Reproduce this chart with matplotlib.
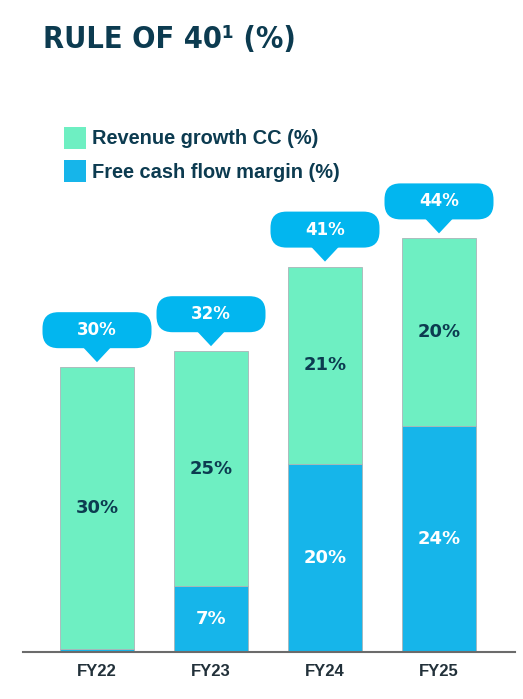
import matplotlib
matplotlib.use("Agg")
import matplotlib.pyplot as plt
import matplotlib.transforms as mtransforms
from matplotlib.patches import FancyBboxPatch, Polygon, Rectangle
from matplotlib import font_manager

# ---- data ----
years = ["FY22", "FY23", "FY24", "FY25"]
fcf_margin = [0.3, 7, 20, 24]
rev_growth = [30, 25, 21, 20]
fcf_labels = ["", "7%", "20%", "24%"]
rev_labels = ["30%", "25%", "21%", "20%"]
total_labels = ["30%", "32%", "41%", "44%"]

W, H = 523, 699
DPI = 100
GREEN = "#6EEFC2"
BLUE = "#16B5EA"
CALLOUT = "#02B6EF"
DARK = "#0C3B50"
GREY_TXT = "#22313A"

# find a condensed bold font for the title if one is installed
cands = []
for f in font_manager.fontManager.ttflist:
    nm = f.name.lower()
    st = str(f.stretch).lower()
    if ("condensed" in nm or "narrow" in nm or "condensed" in st) and (
            f.weight in ("bold", 700, "heavy", 800)):
        cands.append(f)
if cands:
    title_fp = font_manager.FontProperties(fname=cands[0].fname)
    title_size = 22
else:
    title_fp = font_manager.FontProperties(family="DejaVu Sans", weight="bold")
    title_size = 19

body_family = "Liberation Sans"
num_family = "DejaVu Sans"

fig = plt.figure(figsize=(W / DPI, H / DPI), dpi=DPI)
fig.patch.set_facecolor("white")

def fx(x):
    return x / W

def fy(y):
    return 1 - y / H

ax_l, ax_r = 23, 515
ax_base, ax_top = 652, 100
ax = fig.add_axes([fx(ax_l), fy(ax_base), (ax_r - ax_l) / W, (ax_base - ax_top) / H])
px_per_unit = 9.4
ax.set_ylim(0, (ax_base - ax_top) / px_per_unit)
step = 114
first_c = 97
ax.set_xlim((ax_l - first_c) / step, (ax_r - first_c) / step)
for s in ["top", "right", "left"]:
    ax.spines[s].set_visible(False)
ax.spines["bottom"].set_color("#6B6B6B")
ax.spines["bottom"].set_linewidth(1.5)
ax.set_yticks([])
x = list(range(len(years)))
ax.set_xticks(x)
ax.set_xticklabels(years, fontsize=12, fontweight="bold", color=GREY_TXT, family=body_family)
ax.tick_params(axis="x", length=0, pad=9)

bw = 74 / step
ax.bar(x, fcf_margin, width=bw, color=BLUE, edgecolor="#A9B4B8", linewidth=0.6, zorder=2)
ax.bar(x, rev_growth, width=bw, bottom=fcf_margin, color=GREEN, edgecolor="#A9B4B8", linewidth=0.6, zorder=2)

for i in x:
    f = fcf_margin[i]
    r = rev_growth[i]
    if fcf_labels[i]:
        ax.text(i, f / 2, fcf_labels[i], ha="center", va="center", color="white",
                fontsize=13, fontweight="bold", family=num_family, zorder=3)
    ax.text(i, f + r / 2, rev_labels[i], ha="center", va="center", color=DARK,
            fontsize=13, fontweight="bold", family=num_family, zorder=3)

    total = f + r
    trans = fig.dpi_scale_trans + mtransforms.ScaledTranslation(i, total, ax.transData)
    gap = 5 / DPI
    tri_h = 14 / DPI
    tri_w = 28 / DPI
    pill_w = 109 / DPI
    pill_h = 36 / DPI
    pill_b = gap + tri_h
    pill = FancyBboxPatch((-pill_w / 2, pill_b), pill_w, pill_h,
                          boxstyle="round,pad=0,rounding_size=%f" % (16 / DPI),
                          facecolor=CALLOUT, edgecolor="none", transform=trans,
                          clip_on=False, zorder=4)
    ax.add_patch(pill)
    tri = Polygon([(-tri_w / 2, pill_b + 1 / DPI), (tri_w / 2, pill_b + 1 / DPI), (0, gap)],
                  closed=True, facecolor=CALLOUT, edgecolor="none", transform=trans,
                  clip_on=False, zorder=4)
    ax.add_patch(tri)
    ax.text(0, pill_b + pill_h / 2, total_labels[i], transform=trans, ha="center", va="center",
            color="white", fontsize=12, fontweight="bold", family=num_family, zorder=5)

fig.text(fx(43), fy(40), "RULE OF 40\u00b9 (%)", ha="left", va="center", fontsize=title_size,
         color=DARK, fontproperties=title_fp)

leg_items = [("Revenue growth CC (%)", GREEN, 127), ("Free cash flow margin (%)", BLUE, 160)]
for label, col, top in leg_items:
    fig.patches.append(Rectangle((fx(64), fy(top + 22)), 22 / W, 22 / H, transform=fig.transFigure,
                                 facecolor=col, edgecolor="none"))
    fig.text(fx(92), fy(top + 12), label, ha="left", va="center", fontsize=14.4,
             fontweight="bold", color=DARK, family=body_family)

fig.savefig("out.png", dpi=DPI, facecolor="white")
